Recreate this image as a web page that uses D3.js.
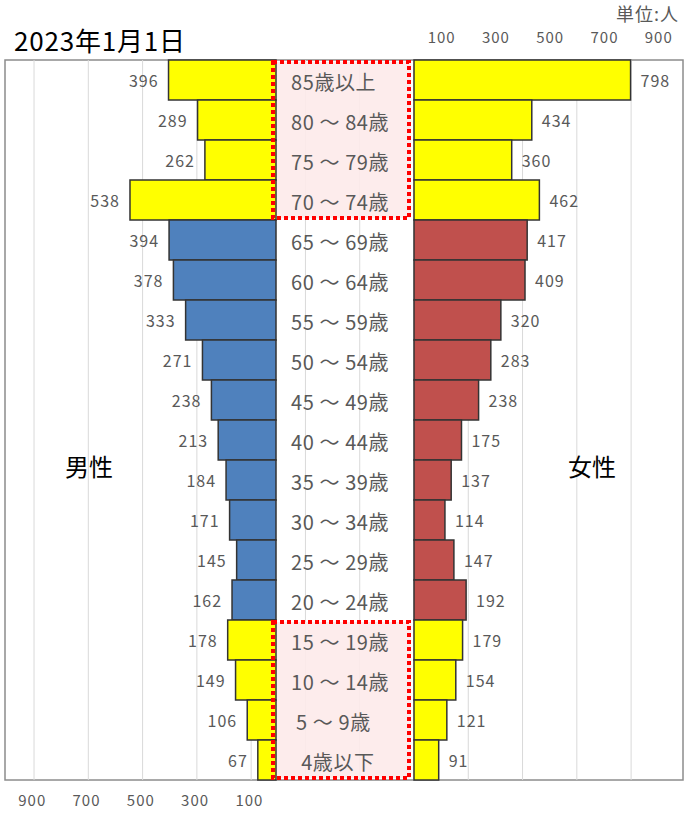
<!DOCTYPE html>
<html>
<head>
<meta charset="utf-8">
<script src="https://cdn.jsdelivr.net/npm/d3@7"></script>
<style>
  body { margin: 0; background: #fff; }
  svg { font-family: "Noto Sans CJK JP", "Noto Sans", sans-serif; }
</style>
</head>
<body>
<svg id="canvas" width="685" height="814"></svg>
<script>
// 年齢区分（上から）
const ages = [
  "85歳以上", "80 ～ 84歳", "75 ～ 79歳", "70 ～ 74歳", "65 ～ 69歳",
  "60 ～ 64歳", "55 ～ 59歳", "50 ～ 54歳", "45 ～ 49歳", "40 ～ 44歳",
  "35 ～ 39歳", "30 ～ 34歳", "25 ～ 29歳", "20 ～ 24歳", "15 ～ 19歳",
  "10 ～ 14歳", " 5 ～ 9歳", "  4歳以下"
];
const male = [396, 289, 262, 538, 394, 378, 333, 271, 238, 213, 184, 171, 145, 162, 178, 149, 106, 67];
const female = [798, 434, 360, 462, 417, 409, 320, 283, 238, 175, 137, 114, 147, 192, 179, 154, 121, 91];
// 黄色で強調する区分
const highlight = ["85歳以上", "80 ～ 84歳", "75 ～ 79歳", "70 ～ 74歳", "15 ～ 19歳", "10 ～ 14歳", " 5 ～ 9歳", "  4歳以下"];
const tickValues = [100, 300, 500, 700, 900];

const svg = d3.select("#canvas");
const gray = "#595959";

const plot = { left: 5, right: 683, top: 60, bottom: 780 };
const maleZero = 276, femaleZero = 414, k = 0.2714;

let y = d3.scaleBand().domain(ages).range([plot.top, plot.bottom]).padding(0);
let xL = d3.scaleLinear().domain([0, 900]).range([maleZero, maleZero - 900 * k]);
let xR = d3.scaleLinear().domain([0, 900]).range([femaleZero, femaleZero + 900 * k]);

// 枠
svg.append("rect")
  .attr("x", plot.left).attr("y", plot.top)
  .attr("width", plot.right - plot.left).attr("height", plot.bottom - plot.top)
  .attr("fill", "#fff").attr("stroke", "#8c8c8c").attr("stroke-width", 1.5);

// 目盛線
svg.append("g").selectAll("line")
  .data(d3.range(-1400, 1000, 200))
  .join("line")
  .attr("x1", d => xR(d)).attr("x2", d => xR(d))
  .attr("y1", plot.top).attr("y2", plot.bottom)
  .attr("stroke", "#d9d9d9").attr("stroke-width", 1);

// ピンクの背景
const pinkGroups = [ages.slice(0, 4), ages.slice(14)];
svg.append("g").selectAll("rect")
  .data(pinkGroups)
  .join("rect")
  .attr("x", maleZero - 3).attr("y", d => y(d[0]) + 2)
  .attr("width", femaleZero - maleZero).attr("height", d => y(d[d.length - 1]) + y.bandwidth() - y(d[0]) - 4)
  .attr("fill", "#fdeaea").attr("fill-opacity", 0.9);

// 男性
svg.append("g").selectAll("rect")
  .data(male)
  .join("rect")
  .attr("x", d => xL(d))
  .attr("y", (d, i) => y(ages[i]))
  .attr("width", d => maleZero - xL(d))
  .attr("height", y.bandwidth())
  .attr("fill", (d, i) => highlight.includes(ages[i]) ? "#ffff00" : "#4f81bd")
  .attr("stroke", "#333").attr("stroke-width", 1.5);

// 女性
svg.append("g").selectAll("rect")
  .data(female)
  .join("rect")
  .attr("x", femaleZero)
  .attr("y", (d, i) => y(ages[i]))
  .attr("width", d => xR(d) - femaleZero)
  .attr("height", y.bandwidth())
  .attr("fill", (d, i) => highlight.includes(ages[i]) ? "#ffff00" : "#c0504d")
  .attr("stroke", "#333").attr("stroke-width", 1.5);

// 赤い点線枠
svg.append("g").selectAll("rect")
  .data(pinkGroups)
  .join("rect")
  .attr("x", maleZero - 3).attr("y", d => y(d[0]) + 2)
  .attr("width", femaleZero - maleZero - 2).attr("height", d => y(d[d.length - 1]) + y.bandwidth() - y(d[0]) - 4)
  .attr("fill", "none").attr("stroke", "#ff0000").attr("stroke-width", 4)
  .attr("stroke-dasharray", "4,3");

// 年齢ラベル
svg.append("g").selectAll("text")
  .data(ages)
  .join("text")
  .attr("x", 291)
  .attr("y", d => y(d) + y.bandwidth() / 2 + 1)
  .attr("dominant-baseline", "central")
  .style("white-space", "pre")
  .attr("font-size", 20)
  .attr("letter-spacing", 0.6)
  .attr("fill", gray)
  .text(d => d);

// 値ラベル
svg.append("g").selectAll("text")
  .data(male)
  .join("text")
  .attr("x", d => xL(d) - 10)
  .attr("y", (d, i) => y(ages[i]) + y.bandwidth() / 2)
  .attr("text-anchor", "end")
  .attr("dominant-baseline", "central")
  .attr("font-size", 16)
  .attr("letter-spacing", 1)
  .attr("fill", gray)
  .text(d => d);

svg.append("g").selectAll("text")
  .data(female)
  .join("text")
  .attr("x", d => xR(d) + 10)
  .attr("y", (d, i) => y(ages[i]) + y.bandwidth() / 2)
  .attr("dominant-baseline", "central")
  .attr("font-size", 16)
  .attr("letter-spacing", 1)
  .attr("fill", gray)
  .text(d => d);

// 軸ラベル
var topAxis = svg.append("g")
  .attr("transform", "translate(0,43)")
  .call(d3.axisTop(xR).tickValues(tickValues).tickSize(0).tickPadding(0));
var bottomAxis = svg.append("g")
  .attr("transform", "translate(0,795)")
  .call(d3.axisBottom(xL).tickValues(tickValues).tickSize(0).tickPadding(0));
[topAxis, bottomAxis].forEach(a => {
  a.select(".domain").remove();
  a.selectAll("text")
    .attr("font-family", "\"Noto Sans CJK JP\", sans-serif")
    .attr("font-size", 15)
    .attr("letter-spacing", 1)
    .attr("fill", gray);
});

// タイトル等
svg.append("text").attr("x", 14).attr("y", 51)
  .attr("font-size", 26).attr("letter-spacing", 0.8).attr("fill", "#000").text("2023年1月1日");
svg.append("text").attr("x", 679).attr("y", 21)
  .attr("text-anchor", "end")
  .attr("font-size", 18).attr("letter-spacing", 1).attr("fill", gray).text("単位:人");
svg.append("text").attr("x", 89).attr("y", 476)
  .attr("text-anchor", "middle")
  .attr("font-size", 24).attr("fill", "#000").text("男性");
svg.append("text").attr("x", 592).attr("y", 476)
  .attr("text-anchor", "middle")
  .attr("font-size", 24).attr("fill", "#000").text("女性");
</script>
</body>
</html>
